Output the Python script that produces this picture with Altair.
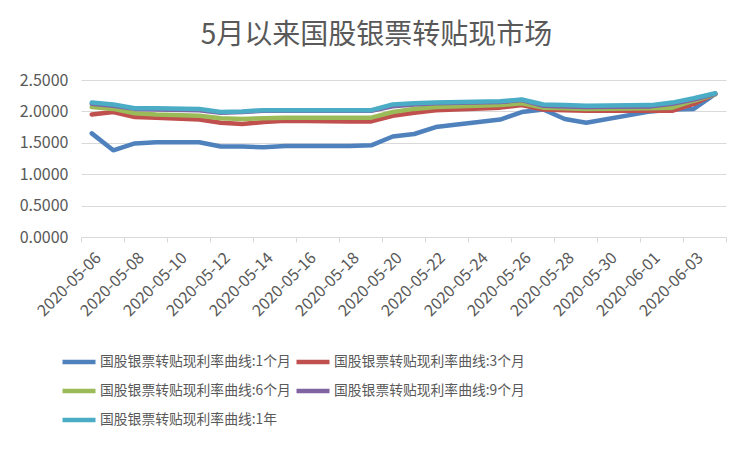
import json
import altair as alt
import pandas as pd

title_text = "5月以来国股银票转贴现市场"

dates = ["2020-05-06", "2020-05-07", "2020-05-08", "2020-05-09", "2020-05-11",
         "2020-05-12", "2020-05-13", "2020-05-14", "2020-05-15", "2020-05-18",
         "2020-05-19", "2020-05-20", "2020-05-21", "2020-05-22", "2020-05-25",
         "2020-05-26", "2020-05-27", "2020-05-28", "2020-05-29", "2020-06-01",
         "2020-06-02", "2020-06-03", "2020-06-04"]

series_names = ["国股银票转贴现利率曲线:1个月", "国股银票转贴现利率曲线:3个月",
                "国股银票转贴现利率曲线:6个月", "国股银票转贴现利率曲线:9个月",
                "国股银票转贴现利率曲线:1年"]

m1 = [1.65, 1.38, 1.49, 1.51, 1.51, 1.44, 1.44, 1.43, 1.45, 1.45, 1.46, 1.60,
      1.64, 1.75, 1.87, 1.99, 2.03, 1.88, 1.82, 2.00, 2.03, 2.04, 2.28]
m3 = [1.95, 1.99, 1.91, 1.90, 1.87, 1.82, 1.80, 1.83, 1.85, 1.84, 1.84, 1.93,
      1.98, 2.02, 2.06, 2.10, 2.03, 2.02, 2.01, 2.01, 2.01, 2.12, 2.28]
m6 = [2.07, 2.04, 1.97, 1.95, 1.93, 1.89, 1.88, 1.89, 1.90, 1.90, 1.90, 1.99,
      2.04, 2.07, 2.10, 2.13, 2.06, 2.05, 2.04, 2.05, 2.06, 2.17, 2.27]
m9 = [2.12, 2.09, 2.04, 2.03, 2.02, 1.98, 1.99, 2.01, 2.01, 2.01, 2.01, 2.08,
      2.11, 2.13, 2.15, 2.18, 2.09, 2.08, 2.07, 2.08, 2.12, 2.19, 2.28]
y1 = [2.14, 2.11, 2.05, 2.05, 2.04, 1.99, 2.00, 2.02, 2.02, 2.02, 2.02, 2.11,
      2.13, 2.14, 2.16, 2.19, 2.11, 2.10, 2.09, 2.10, 2.14, 2.21, 2.29]

tick_labels = ["2020-05-06", "2020-05-08", "2020-05-10", "2020-05-12", "2020-05-14",
               "2020-05-16", "2020-05-18", "2020-05-20", "2020-05-22", "2020-05-24",
               "2020-05-26", "2020-05-28", "2020-05-30", "2020-06-01", "2020-06-03"]

y_ticks = [0.0, 0.5, 1.0, 1.5, 2.0, 2.5]

colors = ["#4F81BD", "#C0504D", "#9BBB59", "#8064A2", "#4BACC6"]

# ---- build table ----
start = pd.Timestamp(dates[0])
day_index = [(pd.Timestamp(d) - start).days for d in dates]
rows = []
for name, vals in zip(series_names, [m1, m3, m6, m9, y1]):
    for d, di, v in zip(dates, day_index, vals):
        rows.append({"date": d, "day": di, "value": v, "series": name})
df = pd.DataFrame(rows)

n_days = day_index[-1] + 1
x_domain = [-0.5, n_days - 0.5]
x_tick_values = [x_domain[0] + 2 * k for k in range(len(tick_labels) + 1)]
label_expr = (json.dumps(tick_labels, ensure_ascii=False)
              + "[round((datum.value + 0.5) / 2)] || ''")

font = "Noto Sans CJK SC"
grey_text = "#595959"
grid_grey = "#D9D9D9"

chart = alt.Chart(df).mark_line(
    strokeWidth=4.5, strokeCap="round", strokeJoin="round"
).encode(
    x=alt.X("day:Q",
            scale=alt.Scale(domain=x_domain, nice=False, zero=False),
            axis=alt.Axis(values=x_tick_values, labelExpr=label_expr,
                          labelAngle=-45, labelAlign="right", labelBaseline="middle",
                          labelOffset=17, labelPadding=13, labelFont=font, labelFontSize=16,
                          labelColor=grey_text, grid=False, domainColor=grid_grey,
                          tickColor=grid_grey, tickSize=5, title=None,
                          labelOverlap=False, labelBound=False, labelFlush=False)),
    y=alt.Y("value:Q",
            scale=alt.Scale(domain=[0, 2.5], nice=False),
            axis=alt.Axis(values=y_ticks, format=".4f", grid=True, gridColor=grid_grey,
                          domain=False, ticks=False, labelFont=font, labelFontSize=16,
                          labelColor=grey_text, labelPadding=13, title=None)),
    color=alt.Color("series:N",
                    scale=alt.Scale(domain=series_names, range=colors),
                    legend=alt.Legend(orient="none", legendX=-21, legendY=263,
                                      direction="horizontal",
                                      columns=2, symbolType="stroke", symbolSize=1089,
                                      symbolStrokeWidth=4.5, labelFont=font,
                                      labelFontSize=13.8, labelColor=grey_text,
                                      labelOffset=2, columnPadding=-4, rowPadding=1,
                                      padding=0, title=None, labelLimit=400)),
).properties(
    width=645,
    height=157,
    title=alt.TitleParams(title_text, font=font, fontSize=28, fontWeight="normal",
                          color=grey_text, anchor="middle", dx=-27, offset=22),
    padding={"left": 73, "top": 72, "right": 17, "bottom": 206},
    autosize=alt.AutoSizeParams(type="none"),
).configure_view(stroke=None)

chart.save("out.html", embed_options={"renderer": "svg", "actions": False})
